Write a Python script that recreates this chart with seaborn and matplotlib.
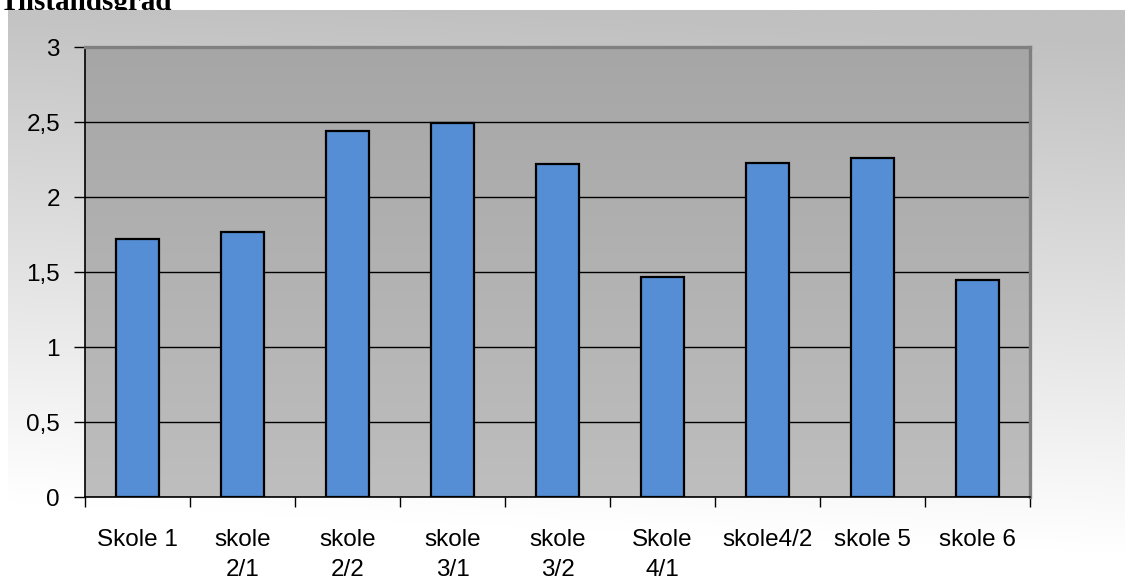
import numpy as np
import pandas as pd
import matplotlib
matplotlib.use("Agg")
import matplotlib.pyplot as plt
import seaborn as sns

# Schools and their average condition grade
skoler = ["Skole 1", "skole\n2/1", "skole\n2/2", "skole\n3/1", "skole\n3/2",
          "Skole\n4/1", "skole4/2", "skole 5", "skole 6"]
tilstandsgrad = [1.72, 1.77, 2.44, 2.49, 2.22, 1.47, 2.23, 2.26, 1.45]
y_ticks = [0, 0.5, 1, 1.5, 2, 2.5, 3]
y_labels = ["0", "0,5", "1", "1,5", "2", "2,5", "3"]

sns.set_theme(style="white")
plt.rcParams["font.family"] = ["Liberation Sans", "DejaVu Sans"]

W, H = 1125, 580
fig = plt.figure(figsize=(W / 100, H / 100), dpi=100)
fig.patch.set_facecolor("white")

# Heading, partly hidden behind the chart panel
fig.text(0.0, 1 - 9.5 / H, "Tilstandsgrad", va="baseline", ha="left",
         fontfamily="Liberation Serif", fontweight="bold", fontsize=21,
         color="black", zorder=-5)

# Outer chart panel: grey at the top fading to white toward the bottom
bg = fig.add_axes([8 / W, 0, 1 - 8 / W, 1 - 10 / H], zorder=-1)
bg.set_axis_off()
xs = np.linspace(0, 1, 300)
ys = np.linspace(0, 1, 200)
xx, yy = np.meshgrid(xs, ys)
t = np.clip(1.1 * yy - 0.05 + 0.1 * (1 - xx), 0, 1)
grey = (192 + 63 * t) / 255
bg.imshow(np.dstack([grey, grey, grey]), aspect="auto", extent=[0, 1, 1, 0],
          interpolation="bilinear")
bg.set_xlim(0, 1)
bg.set_ylim(1, 0)

# Plot area
left, right, top, bottom = 85, 1030, 47, 497
ax = fig.add_axes([left / W, (H - bottom) / H, (right - left) / W, (bottom - top) / H])

df = pd.DataFrame({"skole": skoler, "verdi": tilstandsgrad})
sns.barplot(data=df, x="skole", y="verdi", ax=ax, color="#558ed5", saturation=1,
            width=0.41, edgecolor="black", linewidth=1.6, zorder=3)

n = len(skoler)

# Plot area fill: darker grey at the top, lighter at the bottom
g = np.linspace(166, 190, 100) / 255
fill = np.repeat(g[:, None], 2, axis=1)
ax.imshow(np.dstack([fill, fill, fill]), aspect="auto",
          extent=[-0.5, n - 0.5, 0, 3], zorder=0, interpolation="bilinear")
ax.set_xlim(-0.5, n - 0.5)
ax.set_ylim(0, 3)

ax.set_axisbelow(True)
ax.yaxis.grid(True, color="black", linewidth=1.0, zorder=1)
ax.xaxis.grid(False)

ax.set_yticks(y_ticks)
ax.set_yticklabels(y_labels)
ax.tick_params(axis="y", which="major", left=True, length=8, width=1.0,
               color="black", pad=10, labelsize=17.5, labelcolor="black")

# Category boundary ticks on the x axis, labels centred between them
ax.set_xticks(range(n))
ax.set_xticklabels(skoler, linespacing=1.5)
ax.set_xticks(np.arange(-0.5, n), minor=True)
ax.tick_params(axis="x", which="major", bottom=True, length=0, pad=23,
               labelsize=17.5, labelcolor="black")
ax.tick_params(axis="x", which="minor", bottom=True, length=7, width=1.0,
               color="black")
for lbl in ax.get_xticklabels():
    lbl.set_verticalalignment("top")

ax.set_xlabel("")
ax.set_ylabel("")

for side in ["left", "bottom"]:
    ax.spines[side].set_color("black")
    ax.spines[side].set_linewidth(1.2)
for side in ["top", "right"]:
    ax.spines[side].set_color("#808080")
    ax.spines[side].set_linewidth(2.4)
for sp in ax.spines.values():
    sp.set_visible(True)
    sp.set_zorder(4)

fig.savefig("out.png", dpi=100)
